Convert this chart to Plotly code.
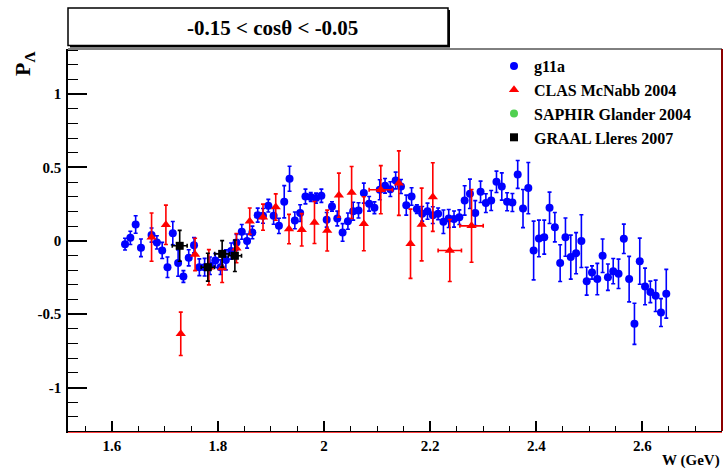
import plotly.graph_objects as go

# g11a data
g11a_w = [1.625, 1.635, 1.645, 1.655, 1.675, 1.685, 1.695, 1.705, 1.715, 1.725,
          1.735, 1.745, 1.755, 1.765, 1.775, 1.785, 1.795, 1.805, 1.815, 1.825,
          1.835, 1.845, 1.855, 1.865, 1.875, 1.885, 1.895, 1.905, 1.915, 1.925,
          1.935, 1.945, 1.955, 1.965, 1.975, 1.985, 1.995, 2.005, 2.015, 2.025,
          2.035, 2.045, 2.055, 2.065, 2.075, 2.085, 2.095, 2.105, 2.115, 2.125,
          2.135, 2.145, 2.155, 2.165, 2.175, 2.185, 2.195, 2.205, 2.215, 2.225,
          2.235, 2.245, 2.255, 2.265, 2.275, 2.285, 2.295, 2.305, 2.315, 2.325,
          2.335, 2.345, 2.355, 2.365, 2.375, 2.385, 2.395, 2.405, 2.415, 2.425,
          2.435, 2.445, 2.455, 2.465, 2.475, 2.485, 2.495, 2.505, 2.515, 2.525,
          2.535, 2.545, 2.555, 2.565, 2.575, 2.585, 2.595, 2.605, 2.615, 2.625,
          2.635, 2.645]
g11a_p = [-0.023, 0.020, 0.111, -0.048, 0.039, -0.011, -0.066, -0.180, 0.052, -0.152,
          -0.243, -0.116, -0.030, -0.180, -0.180, -0.170, -0.134, -0.180, -0.130, -0.070,
          -0.011, 0.061, -0.002, 0.057, 0.175, 0.170, 0.239, 0.170, 0.102, 0.266,
          0.423, 0.139, 0.189, 0.302, 0.298, 0.291, 0.307, 0.143, 0.234, 0.152,
          0.057, 0.134, 0.202, 0.207, 0.325, 0.252, 0.225, 0.348, 0.375, 0.352,
          0.411, 0.370, 0.243, 0.302, 0.216, 0.184, 0.202, 0.175, 0.184, 0.130,
          0.152, 0.148, 0.161, 0.275, 0.320, 0.189, 0.334, 0.257, 0.275, 0.402,
          0.370, 0.266, 0.261, 0.452, 0.220, 0.359, -0.066, 0.016, 0.025, 0.225,
          0.093, -0.152, 0.025, -0.111, -0.084, -0.002, -0.275, -0.216, -0.261, -0.102,
          -0.248, -0.207, -0.225, 0.014, -0.261, -0.566, -0.139, -0.311, -0.348, -0.375,
          -0.489, -0.361]
g11a_err = [0.04, 0.045, 0.06, 0.06, 0.048, 0.045, 0.055, 0.07, 0.08, 0.09,
            0.04, 0.055, 0.052, 0.057, 0.06, 0.06, 0.048, 0.05, 0.068, 0.055,
            0.055, 0.05, 0.048, 0.043, 0.048, 0.05, 0.043, 0.057, 0.052, 0.11,
            0.085, 0.057, 0.057, 0.05, 0.03, 0.034, 0.045, 0.05, 0.032, 0.05,
            0.06, 0.055, 0.061, 0.052, 0.068, 0.05, 0.04, 0.068, 0.05, 0.05,
            0.057, 0.048, 0.068, 0.06, 0.03, 0.05, 0.055, 0.057, 0.04, 0.08,
            0.061, 0.055, 0.05, 0.1, 0.1, 0.085, 0.073, 0.064, 0.068, 0.073,
            0.093, 0.061, 0.061, 0.095, 0.13, 0.175, 0.2, 0.125, 0.116, 0.107,
            0.1, 0.125, 0.13, 0.15, 0.14, 0.18, 0.095, 0.045, 0.107, 0.114,
            0.09, 0.086, 0.1, 0.1, 0.155, 0.14, 0.157, 0.125, 0.073, 0.107,
            0.095, 0.166]

# CLAS McNabb 2004
clas_w = [1.675, 1.702, 1.730, 1.757, 1.783, 1.808, 1.835, 1.860, 1.885, 1.909,
          1.934, 1.958, 1.982, 2.006, 2.028, 2.052, 2.075, 2.107, 2.141, 2.163,
          2.184, 2.205, 2.237, 2.278]
clas_p = [0.025, 0.109, -0.634, -0.093, -0.180, -0.186, -0.050, 0.134, 0.161, 0.230,
          0.080, 0.075, 0.125, 0.070, 0.311, 0.329, 0.116, 0.348, 0.393, -0.020,
          0.111, 0.298, -0.066, 0.102]
clas_err = [0.164, 0.134, 0.148, 0.11, 0.12, 0.098, 0.1, 0.09, 0.089, 0.09,
            0.1, 0.11, 0.143, 0.139, 0.15, 0.177, 0.184, 0.164, 0.22, 0.236,
            0.248, 0.234, 0.211, 0.248]
clas_werr = [0, 0, 0, 0, 0, 0, 0, 0, 0, 0,
             0, 0, 0, 0, 0, 0, 0, 0.022, 0, 0,
             0, 0, 0.022, 0.022]

# SAPHIR Glander 2004 (no measured points visible in this bin)
saphir_w = [None]
saphir_p = [None]

# GRAAL Lleres 2007
graal_w = [1.728, 1.781, 1.808, 1.832]
graal_p = [-0.034, -0.180, -0.089, -0.102]
graal_err = [0.105, 0.095, 0.09, 0.107]
graal_werr = [0.014, 0.0125, 0.014, 0.0125]

x_ticks = [1.6, 1.8, 2.0, 2.2, 2.4, 2.6]
x_ticklabels = ["1.6", "1.8", "2", "2.2", "2.4", "2.6"]
y_ticks = [-1, -0.5, 0, 0.5, 1]
y_ticklabels = ["-1", "-0.5", "0", "0.5", "1"]

FONT = "Liberation Serif"
W, H = 725, 470
L, R, T, B = 68, 3, 49, 39
pw, ph = W - L - R, H - T - B


def px(x):
    return (x - L) / pw


def py(y):
    return (H - B - y) / ph


fig = go.Figure()

fig.add_trace(go.Scatter(
    x=g11a_w, y=g11a_p, mode="markers", name="g11a", legendgroup="a",
    marker=dict(color="#0000ff", size=8, symbol="circle"),
    error_y=dict(type="data", array=g11a_err, color="#0000ff", thickness=1.6, width=2),
))
fig.add_trace(go.Scatter(
    x=clas_w, y=clas_p, mode="markers", name="CLAS McNabb 2004", legendgroup="b",
    marker=dict(color="#ff0000", size=9, symbol="triangle-up"),
    error_y=dict(type="data", array=clas_err, color="#ff0000", thickness=1.6, width=2),
    error_x=dict(type="data", array=clas_werr, color="#ff0000", thickness=1.6, width=2),
))
fig.add_trace(go.Scatter(
    x=saphir_w, y=saphir_p, mode="markers", name="SAPHIR Glander 2004", legendgroup="c",
    marker=dict(color="#50d050", size=8, symbol="circle"),
))
fig.add_trace(go.Scatter(
    x=graal_w, y=graal_p, mode="markers", name="GRAAL Lleres 2007", legendgroup="d",
    marker=dict(color="#000000", size=8, symbol="square"),
    error_y=dict(type="data", array=graal_err, color="#000000", thickness=1.6, width=2),
    error_x=dict(type="data", array=graal_werr, color="#000000", thickness=1.6, width=2),
))

axis_font = dict(family=FONT, size=15, color="black", weight="bold")

fig.update_layout(
    width=W, height=H,
    margin=dict(l=L, r=R, t=T, b=B, pad=0),
    paper_bgcolor="white", plot_bgcolor="white",
    showlegend=True,
    legend=dict(
        x=px(494), y=py(49), xanchor="left", yanchor="top",
        bgcolor="rgba(0,0,0,0)", borderwidth=0,
        font=dict(family=FONT, size=16, color="black", weight="bold"),
        tracegroupgap=0, itemclick=False,
    ),
    xaxis=dict(
        range=[1.5175, 2.75], showgrid=False, zeroline=False,
        showline=True, linecolor="black", linewidth=1.5, mirror=False,
        ticks="inside", ticklen=10, tickwidth=1.5, tickcolor="black",
        tickvals=x_ticks, ticktext=x_ticklabels, tickfont=axis_font,
        minor=dict(ticks="inside", ticklen=5, dtick=0.05, tickwidth=1.2, tickcolor="black"),
        ticklabelstandoff=0,
    ),
    yaxis=dict(
        range=[-1.296, 1.307], showgrid=False, zeroline=False,
        showline=True, linecolor="black", linewidth=1.5, mirror=False,
        ticks="inside", ticklen=19, tickwidth=1.5, tickcolor="black",
        tickvals=y_ticks, ticktext=y_ticklabels, tickfont=axis_font,
        minor=dict(ticks="inside", ticklen=10, dtick=0.1, tickwidth=1.2, tickcolor="black"),
        ticklabelstandoff=2,
    ),
    shapes=[
        # frame top and right
        dict(type="line", xref="paper", yref="paper", x0=0, x1=1, y0=1, y1=1,
             line=dict(color="black", width=1)),
        dict(type="line", xref="paper", yref="paper", x0=1, x1=1, y0=0, y1=1,
             line=dict(color="#8b0000", width=2)),
        dict(type="line", xref="paper", yref="paper", x0=0, x1=1, y0=py(432.5), y1=py(432.5),
             line=dict(color="#ff4040", width=1)),
        # title box shadow + box
        dict(type="rect", xref="paper", yref="paper", x0=px(70), x1=px(450), y0=py(47.5), y1=py(10),
             line=dict(width=0), fillcolor="black"),
        dict(type="rect", xref="paper", yref="paper", x0=px(68), x1=px(448), y0=py(45.5), y1=py(8),
             line=dict(color="black", width=1.5), fillcolor="white"),
    ],
    annotations=[
        dict(text="-0.15 < cosθ < -0.05", xref="paper", yref="paper",
             x=px(272), y=py(28), xanchor="center", yanchor="middle", showarrow=False,
             font=dict(family=FONT, size=21, color="black", weight="bold")),
        dict(text="P<sub>Λ</sub>", xref="paper", yref="paper", textangle=-90,
             x=px(24), y=py(64), xanchor="center", yanchor="middle", showarrow=False,
             font=dict(family=FONT, size=22, color="black", weight="bold")),
        dict(text="W (GeV)", xref="paper", yref="paper",
             x=px(722), y=py(461), xanchor="right", yanchor="middle", showarrow=False,
             font=dict(family=FONT, size=15, color="black", weight="bold")),
    ],
)

fig.write_html(
    "out.html",
    config={"displayModeBar": False},
    post_script="document.body.style.margin='0';document.body.style.overflow='hidden';",
)
